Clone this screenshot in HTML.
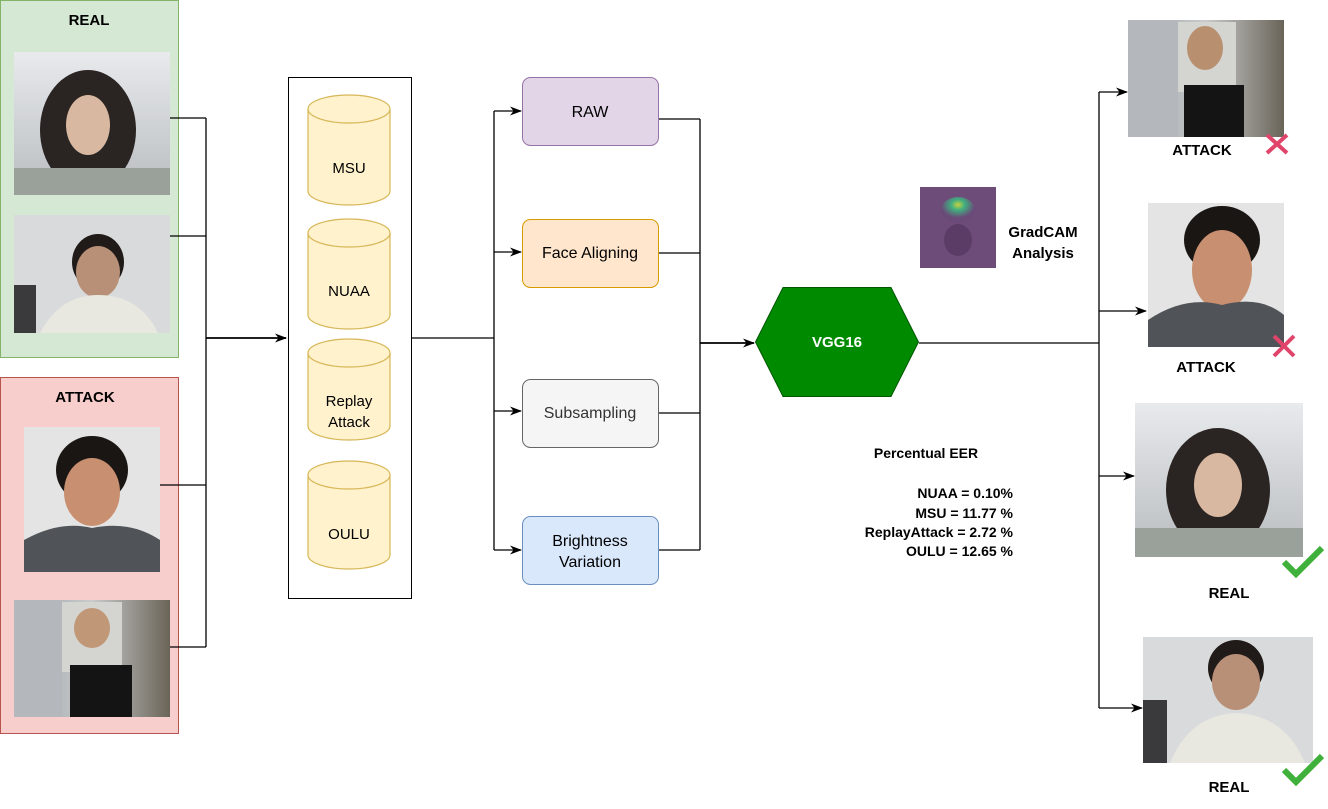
<!DOCTYPE html>
<html><head><meta charset="utf-8"><style>
html,body{margin:0;padding:0;background:#fff;}
svg{display:block;font-family:"Liberation Sans",Arial,sans-serif;}
</style></head><body>
<svg width="1328" height="809" viewBox="0 0 1328 809" xmlns="http://www.w3.org/2000/svg">
<defs>
<marker id="ar" markerWidth="12" markerHeight="12" refX="11" refY="6" orient="auto" markerUnits="userSpaceOnUse">
<path d="M0,1.5 L12,6 L0,10.5 L3.5,6 Z" fill="#000"/></marker>
<linearGradient id="bgA" x1="0" y1="0" x2="0" y2="1"><stop offset="0" stop-color="#e8eaec"/><stop offset="1" stop-color="#b8bcc0"/></linearGradient>
<linearGradient id="bgB" x1="0" y1="0" x2="1" y2="0"><stop offset="0" stop-color="#9ea3a6"/><stop offset="0.5" stop-color="#c8cacb"/><stop offset="1" stop-color="#6a6458"/></linearGradient>
<radialGradient id="gc" cx="0.5" cy="0.3" r="0.5"><stop offset="0" stop-color="#c8d040"/><stop offset="0.4" stop-color="#40b080"/><stop offset="1" stop-color="#6a4a78"/></radialGradient>
</defs>

<rect x="0.5" y="0.5" width="178" height="357" fill="#d5e8d4" stroke="#82b366"/>
<text x="89" y="25" font-size="15" font-weight="bold" text-anchor="middle">REAL</text>
<g><rect x="14" y="52" width="156" height="143" fill="url(#bgA)"/>
<ellipse cx="88" cy="130" rx="48" ry="60" fill="#2a2422"/>
<ellipse cx="88" cy="125" rx="22" ry="30" fill="#d8b8a0"/>
<rect x="14" y="168" width="156" height="27" fill="#9aa09a"/></g>
<g><rect x="14" y="215" width="156" height="118" fill="#d8dadc"/>
<ellipse cx="98" cy="262" rx="26" ry="28" fill="#201a18"/>
<ellipse cx="98" cy="272" rx="22" ry="26" fill="#b89078"/>
<path d="M40,333 Q60,295 98,295 Q140,295 158,333 Z" fill="#e8e8e0"/>
<rect x="14" y="285" width="22" height="48" fill="#3a3a3c"/></g>

<rect x="0.5" y="377.5" width="178" height="356" fill="#f8cecc" stroke="#b85450"/>
<text x="85" y="402" font-size="15" font-weight="bold" text-anchor="middle">ATTACK</text>
<g><rect x="24" y="427" width="136" height="145" fill="#e4e4e4"/>
<ellipse cx="92" cy="470" rx="36" ry="34" fill="#1a1614"/>
<ellipse cx="92" cy="492" rx="28" ry="34" fill="#c89070"/>
<path d="M24,572 L24,540 Q60,520 92,528 Q130,520 160,540 L160,572 Z" fill="#505458"/></g>
<g><rect x="14" y="600" width="156" height="117" fill="url(#bgB)"/>
<rect x="62" y="602" width="60" height="70" fill="#d4d4d0"/>
<ellipse cx="92" cy="628" rx="18" ry="20" fill="#c09878"/>
<rect x="70" y="665" width="62" height="52" fill="#141414"/>
<rect x="14" y="600" width="48" height="117" fill="#b4b8bc"/></g>

<g stroke="#000" stroke-width="1.3" fill="none">
<path d="M170,118 H206 M170,236 H206 M160,485 H206 M170,647 H206 M206,118 V647"/>
<path d="M206,338 H286" stroke-width="1.8" marker-end="url(#ar)"/>
</g>

<rect x="288.5" y="77.5" width="123" height="521" fill="#fff" stroke="#000"/>
<g fill="#fff2cc" stroke="#d6b656" stroke-width="1.2">
<path d="M308,109 V191 A41,14 0 0 0 390,191 V109 A41,14 0 0 0 308,109 Z"/><path d="M308,109 A41,14 0 0 0 390,109"/>
<path d="M308,233 V315 A41,14 0 0 0 390,315 V233 A41,14 0 0 0 308,233 Z"/><path d="M308,233 A41,14 0 0 0 390,233"/>
<path d="M308,353 V426 A41,14 0 0 0 390,426 V353 A41,14 0 0 0 308,353 Z"/><path d="M308,353 A41,14 0 0 0 390,353"/>
<path d="M308,475 V555 A41,14 0 0 0 390,555 V475 A41,14 0 0 0 308,475 Z"/><path d="M308,475 A41,14 0 0 0 390,475"/>
</g>
<g font-size="15" text-anchor="middle" fill="#000">
<text x="349" y="173">MSU</text>
<text x="349" y="296">NUAA</text>
<text x="349" y="406">Replay</text>
<text x="349" y="427">Attack</text>
<text x="349" y="539">OULU</text>
</g>

<g stroke="#000" stroke-width="1.3" fill="none">
<path d="M412,338 H494 M494,111 V550"/>
<path d="M494,111 H521" marker-end="url(#ar)"/>
<path d="M494,252 H521" marker-end="url(#ar)"/>
<path d="M494,411 H521" marker-end="url(#ar)"/>
<path d="M494,550 H521" marker-end="url(#ar)"/>
</g>

<rect x="522.5" y="77.5" width="136" height="68" rx="8" fill="#e1d5e7" stroke="#9673a6"/>
<rect x="522.5" y="219.5" width="136" height="68" rx="8" fill="#ffe6cc" stroke="#d79b00"/>
<rect x="522.5" y="379.5" width="136" height="68" rx="8" fill="#f5f5f5" stroke="#666666"/>
<rect x="522.5" y="516.5" width="136" height="68" rx="8" fill="#dae8fc" stroke="#6c8ebf"/>
<g font-size="16" text-anchor="middle">
<text x="590" y="117" fill="#000">RAW</text>
<text x="590" y="258" fill="#000">Face Aligning</text>
<text x="590" y="418" fill="#333">Subsampling</text>
<text x="590" y="546" fill="#000">Brightness</text>
<text x="590" y="567" fill="#000">Variation</text>
</g>

<g stroke="#000" stroke-width="1.3" fill="none">
<path d="M659,119 H700 M659,253 H700 M659,413 H700 M659,550 H700 M700,119 V550"/>
<path d="M700,343 H754" stroke-width="1.8" marker-end="url(#ar)"/>
</g>

<polygon points="755.5,342 783,287.5 891,287.5 918.5,342 891,396.5 783,396.5" fill="#008a00" stroke="#005700"/>
<text x="837" y="347" font-size="15" font-weight="bold" fill="#fff" text-anchor="middle">VGG16</text>

<g stroke="#000" stroke-width="1.3" fill="none">
<path d="M919,343 H1099 M1099,92 V708"/>
<path d="M1099,92 H1127" marker-end="url(#ar)"/>
<path d="M1099,311 H1146" marker-end="url(#ar)"/>
<path d="M1099,476 H1134" marker-end="url(#ar)"/>
<path d="M1099,708 H1142" marker-end="url(#ar)"/>
</g>

<rect x="920" y="187" width="76" height="81" fill="#6e4c7a"/>
<ellipse cx="958" cy="210" rx="17" ry="13" fill="url(#gc)"/>
<ellipse cx="958" cy="240" rx="14" ry="16" fill="#5a3c66"/>
<text x="1043" y="237" font-size="15" font-weight="bold" text-anchor="middle">GradCAM</text>
<text x="1043" y="258" font-size="15" font-weight="bold" text-anchor="middle">Analysis</text>

<g font-size="14" font-weight="bold">
<text x="926" y="458" text-anchor="middle">Percentual EER</text>
<text x="1013" y="498" text-anchor="end">NUAA = 0.10%</text>
<text x="1013" y="518" text-anchor="end">MSU = 11.77 %</text>
<text x="1013" y="537" text-anchor="end">ReplayAttack = 2.72 %</text>
<text x="1013" y="556" text-anchor="end">OULU = 12.65 %</text>
</g>

<g><rect x="1128" y="20" width="156" height="117" fill="url(#bgB)"/>
<rect x="1176" y="22" width="60" height="70" fill="#d4d4d0"/>
<ellipse cx="1205" cy="48" rx="18" ry="22" fill="#b89070"/>
<rect x="1184" y="85" width="60" height="52" fill="#141414"/>
<rect x="1128" y="20" width="50" height="117" fill="#b4b8bc"/></g>
<text x="1202" y="155" font-size="15" font-weight="bold" text-anchor="middle">ATTACK</text>
<path d="M1267,135 L1287,153 M1287,135 L1267,153" stroke="#e0446a" stroke-width="4"/>

<g><rect x="1148" y="203" width="136" height="144" fill="#e4e4e4"/>
<ellipse cx="1222" cy="240" rx="38" ry="34" fill="#1a1614"/>
<ellipse cx="1222" cy="270" rx="30" ry="40" fill="#c89070"/>
<path d="M1148,347 L1148,320 Q1185,295 1222,305 Q1260,295 1284,315 L1284,347 Z" fill="#505458"/></g>
<text x="1206" y="372" font-size="15" font-weight="bold" text-anchor="middle">ATTACK</text>
<path d="M1274,336 L1294,356 M1294,336 L1274,356" stroke="#e0446a" stroke-width="4"/>

<g><rect x="1135" y="403" width="168" height="154" fill="url(#bgA)"/>
<ellipse cx="1218" cy="490" rx="52" ry="62" fill="#2a2422"/>
<ellipse cx="1218" cy="485" rx="24" ry="32" fill="#d8b8a0"/>
<rect x="1135" y="528" width="168" height="29" fill="#9aa09a"/></g>
<path d="M1284,562 L1296,574 L1322,548" stroke="#3fb03a" stroke-width="6" fill="none"/>
<text x="1229" y="598" font-size="15" font-weight="bold" text-anchor="middle">REAL</text>

<g><rect x="1143" y="637" width="170" height="126" fill="#d8dadc"/>
<ellipse cx="1236" cy="668" rx="28" ry="28" fill="#201a18"/>
<ellipse cx="1236" cy="682" rx="24" ry="28" fill="#b89078"/>
<path d="M1170,763 Q1190,715 1236,713 Q1285,715 1305,763 Z" fill="#e8e8e0"/>
<rect x="1143" y="700" width="24" height="63" fill="#3a3a3c"/></g>
<path d="M1284,770 L1296,782 L1322,756" stroke="#3fb03a" stroke-width="6" fill="none"/>
<text x="1229" y="792" font-size="15" font-weight="bold" text-anchor="middle">REAL</text>
</svg>
</body></html>
